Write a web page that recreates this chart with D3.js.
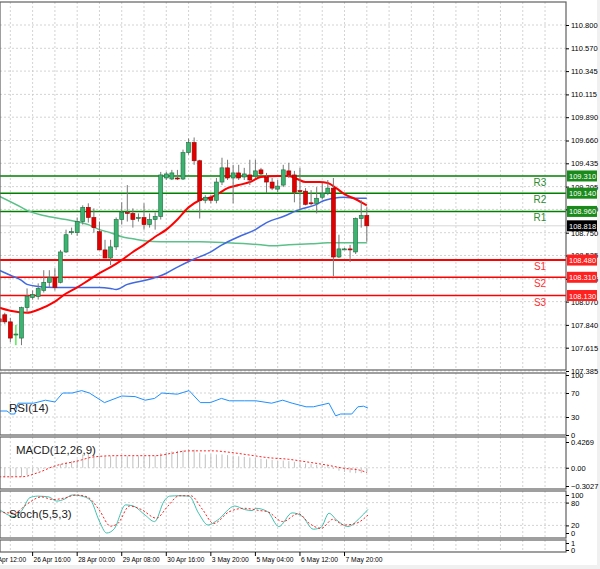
<!DOCTYPE html>
<html><head><meta charset="utf-8">
<script src="https://cdn.jsdelivr.net/npm/d3@7"></script>
<style>body{margin:0;background:#fff}svg{display:block;font-family:"Liberation Sans",Arial,sans-serif}</style>
</head><body><svg id="c" width="600" height="569"></svg>
<script>
// ---- data ----
const opens  = [107.90,107.94,107.87,107.74,107.71,108.01,108.11,108.12,108.18,108.26,108.31,108.26,108.56,108.75,108.75,108.86,109.00,108.90,108.76,108.58,108.50,108.61,108.88,108.95,108.94,108.90,108.90,108.83,108.88,108.91,109.29,109.28,109.29,109.28,109.54,109.64,109.46,109.07,109.10,109.07,109.25,109.39,109.29,109.34,109.30,109.32,109.31,109.37,109.30,109.25,109.18,109.22,109.36,109.32,109.165,109.16,109.045,109.04,109.10,109.14,109.19,108.51,108.59,108.59,108.56,108.89,108.92];
const highs  = [107.93,107.96,107.91,107.84,108.02,108.20,108.18,108.25,108.38,108.38,108.40,108.58,108.78,108.80,108.90,109.02,109.04,108.99,108.86,108.68,108.68,108.90,109.05,109.22,108.99,108.94,109.04,108.94,108.95,109.35,109.35,109.37,109.37,109.57,109.68,109.69,109.47,109.12,109.12,109.29,109.49,109.47,109.42,109.42,109.39,109.47,109.47,109.39,109.34,109.29,109.27,109.42,109.44,109.36,109.39,109.19,109.17,109.20,109.24,109.27,109.29,108.73,108.60,108.63,108.90,109.07,109.00];
const lows   = [107.85,107.85,107.67,107.64,107.64,107.96,108.09,108.09,108.16,108.21,108.18,108.25,108.55,108.73,108.72,108.83,108.85,108.75,108.58,108.50,108.43,108.58,108.83,108.86,108.80,108.86,108.78,108.80,108.78,108.88,109.27,109.27,109.27,109.27,109.52,109.42,108.89,109.04,109.04,109.04,109.22,109.27,109.04,109.27,109.27,109.22,109.29,109.32,109.14,109.17,109.15,109.20,109.29,109.05,108.97,109.02,109.02,108.94,109.08,109.12,108.32,108.50,108.58,108.46,108.54,108.80,108.66];
const closes = [107.87,107.87,107.71,107.75,108.01,108.12,108.14,108.20,108.26,108.31,108.21,108.56,108.73,108.76,108.86,109.00,108.90,108.80,108.58,108.50,108.61,108.88,108.95,108.94,108.88,108.90,108.83,108.88,108.91,109.32,109.33,109.34,109.28,109.54,109.64,109.46,109.07,109.10,109.07,109.25,109.39,109.29,109.34,109.29,109.33,109.27,109.36,109.33,109.25,109.19,109.21,109.37,109.32,109.15,109.16,109.03,109.04,109.09,109.14,109.19,108.51,108.59,108.59,108.58,108.89,108.92,108.818];
const maFast = [[0,108.01],[2,107.98],[5,107.96],[7,107.99],[10,108.07],[12,108.15],[14,108.21],[16,108.28],[18,108.35],[20,108.41],[22,108.48],[24,108.56],[26,108.63],[28,108.71],[30,108.78],[32,108.88],[34,109.00],[36,109.07],[38,109.10],[39.5,109.14],[41,109.19],[43,109.22],[45,109.25],[47,109.30],[50,109.31],[52,109.31],[53.5,109.28],[55,109.25],[57.5,109.25],[59,109.24],[60.5,109.19],[62,109.13],[64,109.08],[66,109.02]];
const maMid  = [[0,108.38],[2,108.33],[4,108.28],[5,108.24],[7,108.22],[10,108.21],[14,108.21],[18,108.21],[20,108.20],[21,108.19],[23,108.24],[27,108.29],[30,108.35],[32,108.41],[35,108.49],[38,108.56],[40,108.63],[43,108.71],[46,108.78],[48,108.85],[51,108.91],[54,108.98],[57,109.03],[58,109.06],[60,109.09],[62,109.10],[64,109.09],[66,109.09]];
const maSlow = [[0,109.11],[4,109.00],[5,108.97],[8,108.92],[12,108.88],[16,108.83],[18,108.78],[20,108.75],[22,108.71],[24,108.69],[26,108.67],[29,108.66],[36,108.66],[41,108.65],[47,108.63],[49,108.62],[52,108.63],[56,108.64],[59,108.65],[63,108.65],[66,108.65]];
const levelNames  = ["R3","R2","R1","S1","S2","S3"];
const levelValues = [109.310,109.140,108.960,108.480,108.310,108.130];
const lastPrice = 108.818;
const priceTicks = [110.800,110.570,110.345,110.115,109.890,109.660,109.435,109.205,108.980,108.750,108.525,108.295,108.070,107.840,107.615,107.385];
const rsi = [[0,40],[1.4,40],[2.1,35],[2.8,35],[3.4,53],[6.2,53],[8.3,58],[10,55],[11.4,70],[13.1,70],[14.8,74],[16.2,70],[18.9,54],[22,65],[24.4,64],[26.2,58],[27.9,61],[29.2,70],[30.6,69],[32,68],[34.1,74],[36.1,54],[37.9,54],[39.9,61],[41.3,57],[44,57],[46.1,57],[48.9,53],[50.9,58],[52.6,53],[55.1,47],[56.4,47],[59.2,53],[60.4,32],[61.3,35],[63.3,35],[64.4,47],[65.4,48],[66.2,45]];
const macdHist = [-0.16,-0.16,-0.16,-0.15,-0.15,-0.12,-0.08,-0.05,-0.02,0.01,0.03,0.06,0.09,0.11,0.14,0.22,0.25,0.22,0.20,0.19,0.19,0.19,0.19,0.19,0.19,0.19,0.20,0.20,0.20,0.24,0.26,0.27,0.28,0.29,0.31,0.30,0.25,0.22,0.22,0.22,0.22,0.21,0.20,0.19,0.18,0.17,0.16,0.15,0.14,0.13,0.12,0.12,0.11,0.10,0.08,0.07,0.06,0.05,0.04,0.03,-0.02,-0.05,-0.07,-0.08,-0.09,-0.09,-0.08];
const macdSignal = [[0,-0.15],[4,-0.15],[7,-0.08],[10,0.03],[14,0.11],[17,0.18],[21,0.20],[24,0.20],[28,0.20],[31,0.24],[34,0.28],[38.5,0.28],[41,0.26],[45,0.21],[48,0.17],[52,0.14],[55,0.10],[58.5,0.05],[62,-0.01],[64.7,-0.04],[66,-0.08]];
const stochK = [[0,62],[2.8,43],[4.1,60],[5.5,93],[6.9,97],[8.9,95],[10.3,84],[11.7,89],[13.1,100],[15.1,96],[16.5,84],[17.9,34],[19.3,0],[20.6,10],[22.7,74],[24.1,71],[26.2,47],[27.9,30],[29.6,84],[30.6,97],[32.3,98],[34.1,97],[35.8,52],[37.5,21],[39.2,34],[42.3,71],[44,62],[45.4,59],[46.1,65],[48.2,56],[50.2,17],[52.6,53],[54.4,44],[56.4,10],[57.8,15],[59.2,52],[60.6,34],[62.6,17],[64.7,39],[66.2,62]];
const stochD = [[0,56],[2.8,52],[4.8,74],[7.6,95],[9.6,88],[11.7,92],[13.8,100],[15.8,95],[17.9,62],[20,18],[21.3,25],[23.4,71],[25.5,62],[28.2,39],[30.3,71],[32.3,98],[34.4,98],[36.5,62],[38.5,25],[41.3,56],[44,65],[46.8,59],[48.2,56],[50.9,30],[53.7,51],[55.7,25],[57.8,12],[59.9,36],[61.9,21],[64,25],[66.2,47]];
const timeLabels = ["25 Apr 12:00","26 Apr 16:00","28 Apr 00:00","29 Apr 08:00","30 Apr 16:00","3 May 20:00","5 May 04:00","6 May 12:00","7 May 20:00"];
const timeIdx = [-2,6,14,22,30,38,46,54,62];

// ---- drawing ----
const svg = d3.select("#c");
const W = 566;
const x = d3.scaleLinear().domain([0,66]).range([-0.8,366.8]);
const panels = {main:[2,370], rsi:[373,435], macd:[437,489], stoch:[491,538], empty:[540,552]};
const y = d3.scaleLinear().domain([107.385,110.8]).range([371,25]);
const yR = d3.scaleLinear().domain([0,100]).range([435,375]);
const yM = d3.scaleLinear().domain([-0.3027,0.4269]).range([486,442]);
const yS = d3.scaleLinear().domain([0,100]).range([533,495]);
svg.append("rect").attr("width",600).attr("height",569).attr("fill","#fff");
svg.append("rect").attr("x",0).attr("y",565).attr("width",600).attr("height",4).attr("fill","#f0f0f0");
svg.append("rect").attr("x",597).attr("y",0).attr("width",3).attr("height",569).attr("fill","#f0f0f0");
const defs = svg.append("defs");
Object.entries(panels).forEach(([k,[a,b]])=>{
  defs.append("clipPath").attr("id","cl"+k).append("rect").attr("x",0).attr("y",a).attr("width",W).attr("height",b-a);
});
const grid = "#c8c8c8";
const vg = d3.range(-6,100,4).map(i=>x(i)).filter(v=>v>0&&v<W);
Object.entries(panels).forEach(([k,[a,b]])=>{
  svg.append("g").selectAll("line").data(vg).join("line").attr("x1",d=>d).attr("x2",d=>d).attr("y1",a).attr("y2",b)
    .attr("stroke",grid).attr("stroke-dasharray","2,2").attr("stroke-width",0.8);
});
svg.append("g").selectAll("line").data(priceTicks).join("line").attr("x1",0).attr("x2",W)
  .attr("y1",d=>y(d)).attr("y2",d=>y(d)).attr("stroke",grid).attr("stroke-dasharray","2,2").attr("stroke-width",0.8);
[[yR,[70,30]],[yM,[0]],[yS,[80,20]]].forEach(([s,v])=>{
  svg.append("g").selectAll("line").data(v).join("line").attr("x1",0).attr("x2",W).attr("y1",d=>s(d)).attr("y2",d=>s(d))
  .attr("stroke",grid).attr("stroke-dasharray","2,2").attr("stroke-width",0.8);
});
svg.append("line").attr("x1",0).attr("x2",W).attr("y1",y(lastPrice)).attr("y2",y(lastPrice)).attr("stroke","#d8d8d8");
const main = svg.append("g").attr("clip-path","url(#clmain)");
levelValues.forEach((v,i)=>{
  const col = i<3?"#008000":"#ff0000";
  main.append("line").attr("x1",0).attr("x2",W).attr("y1",y(v)).attr("y2",y(v)).attr("stroke",col).attr("stroke-width",i==3?2:1.5);
  main.append("text").attr("x",540).attr("y",y(v)+10).attr("text-anchor","middle").attr("font-size",10).attr("fill",i<3?"#2e8b2e":"#ff3030").text(levelNames[i]);
});
const line = (s)=>d3.line().x(d=>x(d[0])).y(d=>s(d[1])).curve(d3.curveMonotoneX);
main.append("path").datum(maSlow).attr("d",line(y)).attr("fill","none").attr("stroke","#5cc08a").attr("stroke-width",1.5);
main.append("path").datum(maMid).attr("d",line(y)).attr("fill","none").attr("stroke","#4169e1").attr("stroke-width",1.5);
main.append("path").datum(maFast).attr("d",line(y)).attr("fill","none").attr("stroke","#ff0000").attr("stroke-width",2);
const idx = d3.range(opens.length);
main.append("g").selectAll("line").data(idx).join("line").attr("x1",i=>x(i)).attr("x2",i=>x(i))
  .attr("y1",i=>y(highs[i])).attr("y2",i=>y(lows[i])).attr("stroke",i=>i==3?"#00e000":"#777").attr("stroke-width",1);
main.append("g").selectAll("rect").data(idx).join("rect").attr("x",i=>x(i)-2).attr("width",4)
  .attr("y",i=>y(Math.max(opens[i],closes[i]))).attr("height",i=>Math.max(1,Math.abs(y(opens[i])-y(closes[i]))))
  .attr("fill",i=>closes[i]>=opens[i]?"#3cb371":"#e00000").attr("stroke",i=>closes[i]>=opens[i]?"#1e6b3c":"#900").attr("stroke-width",0.6);
svg.append("path").datum(rsi).attr("clip-path","url(#clrsi)").attr("d",d3.line().x(d=>x(d[0])).y(d=>yR(d[1]))).attr("fill","none").attr("stroke","#1e90ff").attr("stroke-width",1);
svg.append("g").attr("clip-path","url(#clmacd)").selectAll("line").data(idx).join("line").attr("x1",i=>x(i)).attr("x2",i=>x(i))
  .attr("y1",yM(0)).attr("y2",i=>yM(macdHist[i])).attr("stroke","#c0c0c0").attr("stroke-width",1);
svg.append("path").datum(macdSignal).attr("clip-path","url(#clmacd)").attr("d",line(yM)).attr("fill","none").attr("stroke","#ff2020").attr("stroke-dasharray","2,2").attr("stroke-width",1);
svg.append("path").datum(stochK).attr("clip-path","url(#clstoch)").attr("d",line(yS)).attr("fill","none").attr("stroke","#40c0b0").attr("stroke-width",1);
svg.append("path").datum(stochD).attr("clip-path","url(#clstoch)").attr("d",line(yS)).attr("fill","none").attr("stroke","#ff2020").attr("stroke-dasharray","2,2").attr("stroke-width",1);
Object.values(panels).forEach(([a,b])=>{
  svg.append("rect").attr("x",0).attr("y",a).attr("width",W).attr("height",b-a).attr("fill","none").attr("stroke","#606060").attr("stroke-width",1.2);
});
[["RSI(14)",9,412],["MACD(12,26,9)",16,454],["Stoch(5,5,3)",9,518]].forEach(([t,a,b])=>
  svg.append("text").attr("x",a).attr("y",b).attr("font-size",11.5).attr("fill","#222").text(t));
function rAxis(scale, vals, fmt){
  const g = svg.append("g").attr("transform",`translate(${W},0)`)
    .call(d3.axisRight(scale).tickValues(vals).tickSize(3).tickFormat(fmt));
  g.select(".domain").remove();
  g.selectAll("text").attr("font-size",7.5).attr("fill","#000").attr("x",5).attr("font-family","Liberation Sans, Arial");
  g.selectAll("line").attr("stroke","#000");
}
rAxis(y, priceTicks, d3.format(".3f"));
rAxis(yR,[100,70,30,0],d3.format("d"));
rAxis(yM,[0.4269,0,-0.3027],d=>d==0?"0.00":d3.format(".4f")(d));
rAxis(yS,[100,80,20,0],d3.format("d"));
rAxis(d3.scaleLinear().domain([0,1]).range([550,543]),[1,0],d3.format("d"));
const tag=(v,bg)=>{
  svg.append("rect").attr("x",567).attr("y",y(v)-5.5).attr("width",30).attr("height",11).attr("fill",bg);
  svg.append("text").attr("x",569).attr("y",y(v)+3).attr("font-size",7.5).attr("fill","#fff").text(d3.format(".3f")(v));
};
levelValues.forEach((v,i)=>tag(v,i<3?"#1a8a1a":"#ff2020"));
tag(lastPrice,"#000");
svg.append("g").selectAll("text").data(timeIdx).join("text").attr("x",i=>x(i)+1).attr("y",562).attr("font-size",7).attr("fill","#000")
  .attr("textLength",37).attr("lengthAdjust","spacingAndGlyphs").text((d,i)=>timeLabels[i]);
svg.append("g").selectAll("line").data(timeIdx).join("line").attr("x1",i=>x(i)).attr("x2",i=>x(i)).attr("y1",552).attr("y2",556).attr("stroke","#000");
</script></body></html>
